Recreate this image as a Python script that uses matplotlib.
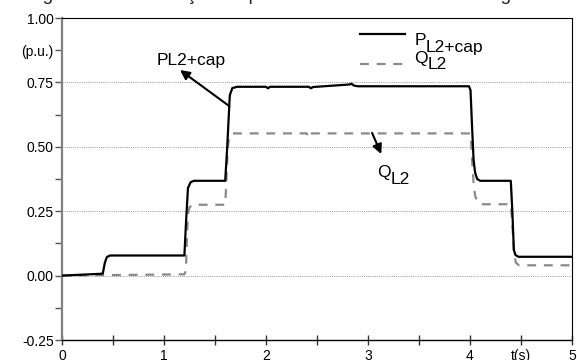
import numpy as np
import matplotlib.pyplot as plt

plt.rcParams['font.family'] = ['Liberation Sans', 'DejaVu Sans']

# P_L2+cap (black, solid)
t_p = [0.0, 0.38, 0.40, 0.42, 0.44, 0.47, 1.20, 1.215, 1.235, 1.26, 1.29,
       1.60, 1.62, 1.645, 1.67, 1.72, 2.00, 2.02, 2.04, 2.42, 2.44, 2.46,
       2.82, 2.84, 2.86, 2.90, 3.99, 4.005, 4.02, 4.035, 4.05, 4.07, 4.10,
       4.40, 4.415, 4.43, 4.445, 4.475, 5.0]
p_l2 = [0.0, 0.007, 0.008, 0.05, 0.072, 0.078, 0.078, 0.2, 0.34, 0.362, 0.368,
        0.368, 0.5, 0.70, 0.728, 0.733, 0.733, 0.727, 0.733, 0.733, 0.727, 0.732,
        0.742, 0.745, 0.738, 0.735, 0.735, 0.72, 0.58, 0.45, 0.40, 0.375, 0.368,
        0.368, 0.25, 0.10, 0.08, 0.073, 0.073]

# Q_L2 (grey, dashed)
t_q = [0.0, 1.20, 1.215, 1.225, 1.235, 1.25, 1.28, 1.60, 1.61, 1.625, 1.64,
       1.67, 2.40, 2.41, 2.43, 2.45, 4.00, 4.01, 4.02, 4.035, 4.05, 4.075,
       4.11, 4.40, 4.415, 4.43, 4.45, 4.48, 5.0]
q_l2 = [0.0, 0.005, 0.02, 0.15, 0.24, 0.265, 0.275, 0.275, 0.35, 0.50, 0.54,
        0.552, 0.552, 0.535, 0.545, 0.552, 0.552, 0.53, 0.45, 0.36, 0.31, 0.285,
        0.277, 0.277, 0.2, 0.09, 0.05, 0.04, 0.04]

yticks = np.arange(-0.25, 1.0001, 0.125)
ylabels = ['-0.25', '', '0.00', '', '0.25', '', '0.50', '', '0.75', '(p.u.)', '1.00']
xticks = np.arange(0, 5.001, 0.5)
xlabels = ['0', '', '1', '', '2', '', '3', '', '4', 't(s)', '5']

fig = plt.figure(figsize=(5.77, 3.6), dpi=100)
ax = fig.add_axes([62 / 577, 20 / 360, 510 / 577, 322 / 360])

# caption of the page, mostly cut off at the top edge
fig.text(27 / 577, 1.0, 'Figura 5.12 \u2013 Variação da potência ativa e reativa na carga',
         fontsize=13.7, va='baseline', ha='left', color='#222222')

for g in [0.0, 0.25, 0.5, 0.75]:
    ax.axhline(g, color='#999999', lw=0.7, ls=(0, (1, 1.2)), zorder=1)

ax.plot(t_q, q_l2, color='#8a8a8a', lw=1.6, ls=(0, (4, 3.5)), zorder=2, label='Q')
ax.plot(t_p, p_l2, color='black', lw=1.6, zorder=3, label='P')

arrow = dict(arrowstyle='-|>', color='black', lw=1.5, mutation_scale=14,
             shrinkA=0, shrinkB=0)
ax.annotate('', xy=(1.157, 0.798), xytext=(1.64, 0.658), arrowprops=arrow)
ax.text(0.93, 0.8175, 'PL2+cap', fontsize=12.5, ha='left', va='baseline')

ax.annotate('', xy=(3.13, 0.472), xytext=(3.04, 0.554), arrowprops=arrow)
q_txt = ax.text(3.09, 0.383, 'Q', fontsize=12.5, ha='left', va='baseline')
ax.annotate('L2', xy=(1, 0), xycoords=q_txt, xytext=(0.3, -5),
            textcoords='offset points', fontsize=12.5, ha='left', va='bottom')

h, l = ax.get_legend_handles_labels()
leg = ax.legend(h[::-1], l[::-1], loc='upper left', bbox_to_anchor=(0.585, 0.953),
                frameon=False, fontsize=12.5, handlelength=2.6, handletextpad=0.5,
                labelspacing=0.12, borderpad=0, borderaxespad=0)
for ln, dy in zip(leg.get_lines(), [4.0, -5.5]):
    ln.set_ydata(np.asarray(ln.get_ydata()) + dy)
# subscripts next to the legend letters, drawn after the legend
for txt, sub in zip(leg.get_texts(), ['L2+cap', 'L2']):
    ax.annotate(sub, xy=(1, 0), xycoords=txt, xytext=(0.3, -5),
                textcoords='offset points', fontsize=12.5, ha='left', va='bottom',
                zorder=10)

ax.set_xlim(0, 5)
ax.set_ylim(-0.25, 1.0)
ax.set_yticks(yticks)
ax.set_yticklabels(ylabels, fontsize=10)
ax.set_xticks(xticks)
ax.set_xticklabels(xlabels, fontsize=10)
ax.tick_params(axis='y', direction='out', length=5, width=1, color='#555555', pad=1)
ax.tick_params(axis='x', direction='inout', length=7, width=1, color='#333333', pad=3)

ax.spines['left'].set_color('#808080')
ax.spines['left'].set_linewidth(1.6)
ax.spines['bottom'].set_linewidth(1.0)
ax.spines['top'].set_linewidth(0.8)
ax.spines['right'].set_linewidth(0.8)

fig.savefig('out.png', dpi=100)
